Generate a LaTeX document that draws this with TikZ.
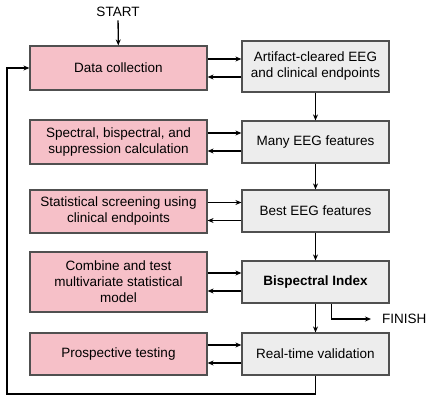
\documentclass[tikz,border=0pt]{standalone}
\usepackage{fontspec}
\setmainfont{Liberation Sans}
\usepackage{xcolor}
\usetikzlibrary{arrows.meta, positioning}

\definecolor{stagepink}{RGB}{246,192,200}
\definecolor{resultgray}{RGB}{237,237,237}
\definecolor{edgegray}{RGB}{80,80,80}

\begin{document}
\begin{tikzpicture}[
    x=1pt, y=-1pt,
    font=\fontsize{13.5}{16}\selectfont,
    stage/.style={rectangle, draw=edgegray, fill=stagepink, line width=1.2pt, minimum width=177pt, minimum height=44pt, align=center},
    result/.style={rectangle, draw=edgegray, fill=resultgray, line width=1.2pt, minimum width=147pt, minimum height=42pt, align=center},
    arrow/.style={-{Stealth[length=6pt, width=5pt]}, line width=1.3pt}
]
\useasboundingbox (0,0) rectangle (431,401);

\node[stage] (collect) at (118.5,68) {Data collection};
\node[result, minimum height=51pt] (cleared) at (315.5,66.5) {Artifact-cleared EEG\\and clinical endpoints};
\node[stage] (spectral) at (118.5,142) {Spectral, bispectral, and\\suppression calculation};
\node[result] (many) at (315.5,142) {Many EEG features};
\node[stage, minimum height=43pt] (screen) at (118.5,211.5) {Statistical screening using\\clinical endpoints};
\node[result] (best) at (315.5,211) {Best EEG features};
\node[stage, minimum height=60pt] (combine) at (118.5,282) {Combine and test\\multivariate statistical\\model};
\node[result] (bis) at (315.5,282) {\textbf{Bispectral Index}};
\node[stage, minimum height=42pt] (prosp) at (118.5,354) {Prospective testing};
\node[result] (realtime) at (315.5,354) {Real-time validation};

\node (start) at (118,12) {START};
\node[anchor=west, inner sep=0pt] (finish) at (382,319) {FINISH};
\coordinate (loop) at (7,394);

% start and finish
\draw[arrow] (start) -- (collect);
\draw[arrow] ([xshift=16pt]bis.south) |- ([xshift=-11pt]finish.west);

% main chain
\draw[arrow] (cleared) -- (many);
\draw[arrow] (many) -- (best);
\draw[arrow] (best) -- (bis);
\draw[arrow] (bis) -- (realtime);
\draw[arrow] (realtime.south) |- (loop) |- (collect.west);

% stage <-> result
\draw[arrow] ([yshift=9pt]collect.east) -- ([yshift=9pt]collect.east -| cleared.west);
\draw[arrow] ([yshift=-9pt]collect.east -| cleared.west) -- ([yshift=-9pt]collect.east);
\draw[arrow] ([yshift=9pt]spectral.east) -- ([yshift=9pt]spectral.east -| many.west);
\draw[arrow] ([yshift=-9pt]spectral.east -| many.west) -- ([yshift=-9pt]spectral.east);
\draw[arrow] ([yshift=9pt]screen.east) -- ([yshift=9pt]screen.east -| best.west);
\draw[arrow] ([yshift=-9pt]screen.east -| best.west) -- ([yshift=-9pt]screen.east);
\draw[arrow] ([yshift=9pt]combine.east) -- ([yshift=9pt]combine.east -| bis.west);
\draw[arrow] ([yshift=-9pt]combine.east -| bis.west) -- ([yshift=-9pt]combine.east);
\draw[arrow] ([yshift=9pt]prosp.east) -- ([yshift=9pt]prosp.east -| realtime.west);
\draw[arrow] ([yshift=-9pt]prosp.east -| realtime.west) -- ([yshift=-9pt]prosp.east);

\end{tikzpicture}
\end{document}
